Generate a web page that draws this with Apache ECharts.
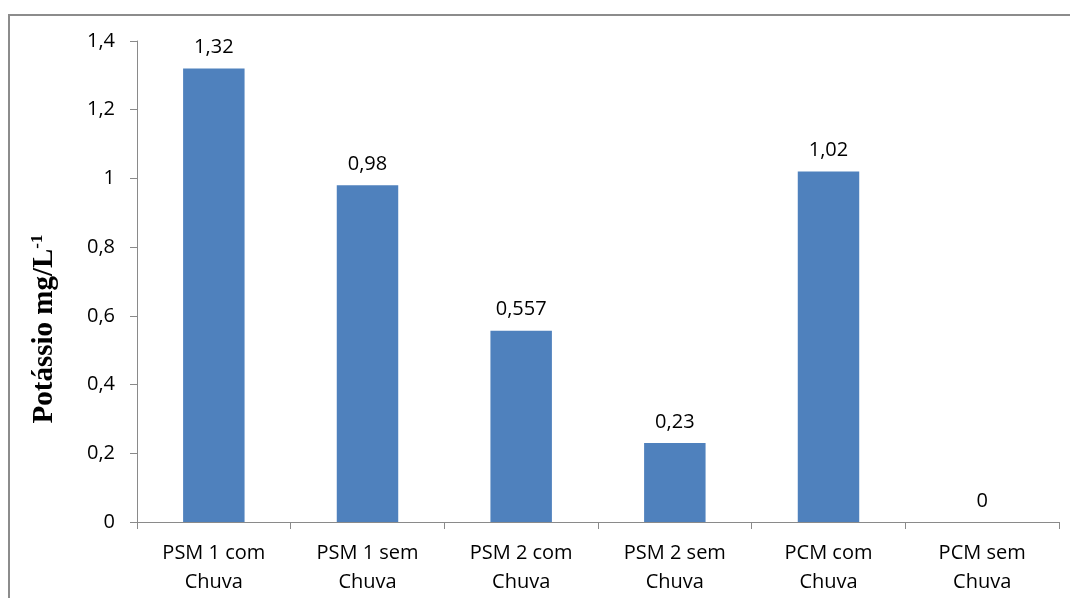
<!DOCTYPE html>
<html><head><meta charset="utf-8">
<script src="https://cdn.jsdelivr.net/npm/echarts@6/dist/echarts.min.js"></script>
<style>html,body{margin:0;padding:0;background:#fff}#c{width:1070px;height:598px}</style>
</head><body><div id="c"></div>
<script>
var categories = ['PSM 1 com\nChuva','PSM 1 sem\nChuva','PSM 2 com\nChuva','PSM 2 sem\nChuva','PCM com\nChuva','PCM sem\nChuva'];
var values = [1.32, 0.98, 0.557, 0.23, 1.02, 0];
var yTicks = {min: 0, max: 1.4, interval: 0.2};
var chart = echarts.init(document.getElementById('c'));
var fmt = function(v){ return String(+Number(v).toFixed(3)).replace('.', ','); };
chart.setOption({
  animation: false,
  graphic: [{type:'rect', shape:{x:9,y:15,width:1100,height:700}, style:{fill:'none', stroke:'#8c8c8c', lineWidth:2}}],
  grid: {left:137, right:11, top:41, bottom:76},
  xAxis: {
    type:'category', data: categories,
    axisLine:{lineStyle:{color:'#8a8a8a', width:1}},
    axisTick:{show:true, alignWithLabel:false, length:7, lineStyle:{color:'#8a8a8a'}},
    axisLabel:{fontFamily:'Open Sans', fontSize:20, color:'#000', margin:17, lineHeight:29, interval:0}
  },
  yAxis: {
    type:'value', min:yTicks.min, max:yTicks.max, interval:yTicks.interval,
    axisLine:{show:true, lineStyle:{color:'#8a8a8a', width:1}},
    axisTick:{show:true, length:7, lineStyle:{color:'#8a8a8a'}},
    splitLine:{show:false},
    axisLabel:{fontFamily:'Open Sans', fontSize:20, color:'#000', margin:22, formatter: fmt},
    name:'{a|Potássio mg/L}{s|-1}', nameLocation:'middle', nameRotate:90, nameGap:77,
    nameTextStyle:{padding:[0,95,0,0], rich:{
      a:{fontFamily:'Liberation Serif', fontWeight:'bold', fontSize:29, color:'#000'},
      s:{fontFamily:'Liberation Serif', fontWeight:'bold', fontSize:17, color:'#000', verticalAlign:'top', padding:[0,0,14,0]}
    }}
  },
  series: [{
    type:'bar', data: values, barWidth:'40%',
    itemStyle:{color:'#4f81bd'},
    label:{show:true, position:'top', distance:11, fontFamily:'Open Sans', fontSize:20, color:'#000', formatter:function(p){return fmt(p.value);}}
  }]
});
</script></body></html>
